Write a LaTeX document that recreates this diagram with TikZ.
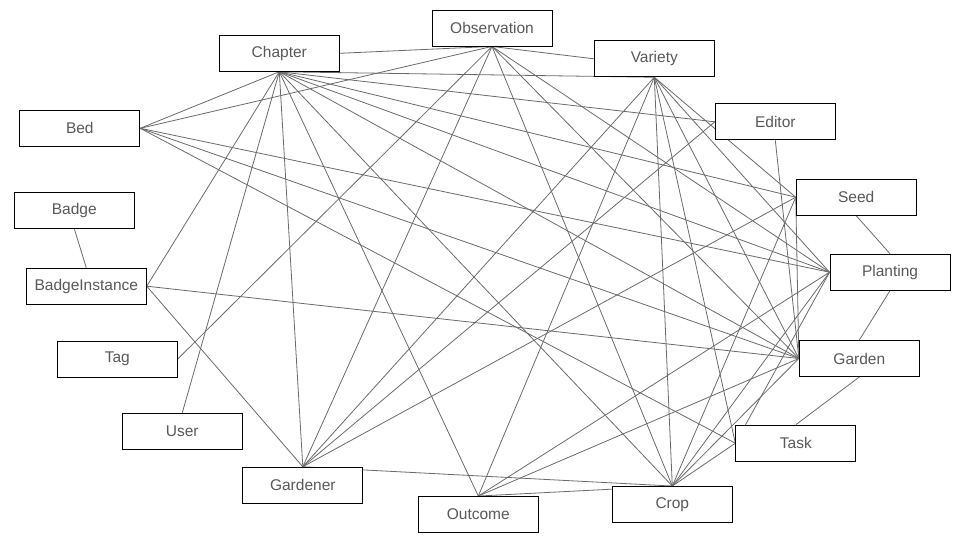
\documentclass[tikz,border=0pt]{standalone}
\usepackage{fontspec}
\setmainfont{Liberation Sans}
\definecolor{txtgray}{HTML}{595959}
\definecolor{linegray}{HTML}{6A6A6A}
\pgfdeclarelayer{bg}
\pgfsetlayers{bg,main}
\begin{document}
\begin{tikzpicture}[x=1pt,y=-1pt,
  ent/.style={draw=black, line width=0.9pt, fill=white, minimum width=120pt, minimum height=36pt, inner sep=0pt, text=txtgray, font=\fontsize{15.5}{18}\selectfont},
  rel/.style={draw=linegray, line width=0.8pt}]
\useasboundingbox (0,0) rectangle (960,540);
\node[ent] (observation) at (492,28) {Observation};
\node[ent] (chapter) at (279.3,53.3) {Chapter};
\node[ent] (variety) at (654.3,58.8) {Variety};
\node[ent] (editor) at (775.3,121.8) {Editor};
\node[ent] (bed) at (79.8,128.3) {Bed};
\node[ent] (badge) at (74.3,210.3) {Badge};
\node[ent] (seed) at (856.2,197.2) {Seed};
\node[ent] (badgeinstance) at (86.3,286.2) {BadgeInstance};
\node[ent] (planting) at (890,272.2) {Planting};
\node[ent] (tag) at (117.3,359) {Tag};
\node[ent] (garden) at (859.3,358.5) {Garden};
\node[ent] (user) at (182.3,431.2) {User};
\node[ent] (task) at (795.8,443.2) {Task};
\node[ent] (gardener) at (302.8,485.2) {Gardener};
\node[ent] (crop) at (672.3,504.5) {Crop};
\node[ent] (outcome) at (478.3,514.5) {Outcome};
\begin{pgfonlayer}{bg}
\draw[rel] (chapter.east) -- (observation.south);
\draw[rel] (observation.south) -- (variety.west);
\draw[rel] (chapter.south) -- (variety.south);
\draw[rel] (chapter.south) -- (editor.west);
\draw[rel] (chapter.south) -- (bed.east);
\draw[rel] (chapter.south) -- (badgeinstance.east);
\draw[rel] (chapter.south) -- (user.north);
\draw[rel] (chapter.south) -- (gardener.north);
\draw[rel] (chapter.south) -- (outcome.north);
\draw[rel] (chapter.south) -- (crop.north);
\draw[rel] (chapter.south) -- (seed.west);
\draw[rel] (chapter.south) -- (planting.west);
\draw[rel] (chapter.south) -- (garden.west);
\draw[rel] (observation.south) -- (bed.east);
\draw[rel] (observation.south) -- (tag.east);
\draw[rel] (observation.south) -- (gardener.north);
\draw[rel] (observation.south) -- (crop.north);
\draw[rel] (observation.south) -- (planting.west);
\draw[rel] (observation.south) -- (garden.west);
\draw[rel] (variety.south) -- (gardener.north);
\draw[rel] (variety.south) -- (outcome.north);
\draw[rel] (variety.south) -- (crop.north);
\draw[rel] (variety.south) -- (task.west);
\draw[rel] (variety.south) -- (garden.west);
\draw[rel] (variety.south) -- (planting.west);
\draw[rel] (variety.south) -- (seed.west);
\draw[rel] (editor.west) -- (gardener.north);
\draw[rel] (editor.south) -- (garden.west);
\draw[rel] (bed.east) -- (planting.west);
\draw[rel] (bed.east) -- (garden.west);
\draw[rel] (bed.east) -- (task.west);
\draw[rel] (badge.south) -- (badgeinstance.north);
\draw[rel] (badgeinstance.east) -- (garden.west);
\draw[rel] (badgeinstance.east) -- (gardener.north);
\draw[rel] (seed.west) -- (gardener.north);
\draw[rel] (seed.west) -- (crop.north);
\draw[rel] (seed.west) -- (garden.west);
\draw[rel] (seed.south) -- (planting.north);
\draw[rel] (planting.west) -- (outcome.north);
\draw[rel] (planting.west) -- (crop.north);
\draw[rel] (planting.west) -- (task.west);
\draw[rel] (planting.south) -- (garden.north);
\draw[rel] (garden.west) -- (outcome.north);
\draw[rel] (garden.west) -- (crop.north);
\draw[rel] (garden.south) -- (task.north);
\draw[rel] (task.west) -- (crop.north);
\draw[rel] (gardener.north) -- (crop.north);
\draw[rel] (outcome.north) -- (crop.north);
\end{pgfonlayer}
\end{tikzpicture}
\end{document}
